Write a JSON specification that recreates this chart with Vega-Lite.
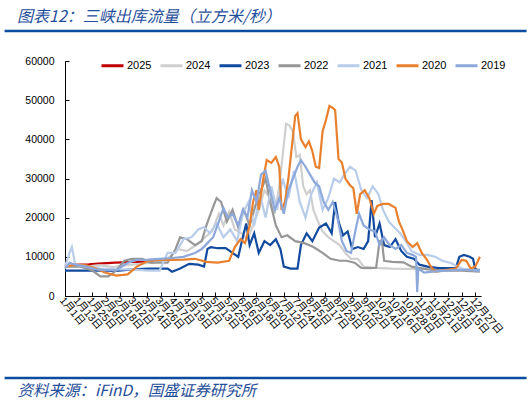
{
  "$schema": "https://vega.github.io/schema/vega-lite/v6.json",
  "width": 416,
  "height": 235,
  "autosize": "none",
  "padding": {"left": 65, "top": 61, "right": 51, "bottom": 108},
  "background": "white",
  "config": {
    "view": {"stroke": null},
    "font": "Liberation Sans, Noto Sans CJK SC",
    "axis": {"labelOverlap": false, "labelFlush": false, "labelBound": false, "grid": false}
  },
  "title": {
    "text": "图表12：三峡出库流量（立方米/秒）",
    "anchor": "start", "frame": "group", "dx": -48, "offset": 5,
    "fontSize": 16, "fontStyle": "italic", "fontWeight": "normal",
    "color": "#1F4E9A", "font": "Noto Sans CJK SC"
  },
  "data": {
    "format": {"parse": {"d": "date:'%m-%d'"}},
    "values": [
      {"s":"2025","d":"01-01","v":7600},{"s":"2025","d":"01-08","v":7900},{"s":"2025","d":"01-15","v":8000},{"s":"2025","d":"01-22","v":8100},{"s":"2025","d":"01-30","v":8300},{"s":"2025","d":"02-07","v":8400},{"s":"2025","d":"02-14","v":8500},{"s":"2025","d":"02-21","v":8600},{"s":"2025","d":"02-28","v":8700},{"s":"2025","d":"03-07","v":8700},{"s":"2025","d":"03-14","v":8600},{"s":"2025","d":"03-20","v":8600},

      {"s":"2024","d":"01-01","v":7800},{"s":"2024","d":"01-10","v":8000},{"s":"2024","d":"01-20","v":7600},{"s":"2024","d":"02-01","v":7800},{"s":"2024","d":"02-12","v":7400},{"s":"2024","d":"02-22","v":7800},{"s":"2024","d":"03-01","v":8000},{"s":"2024","d":"03-10","v":8300},{"s":"2024","d":"03-20","v":8500},{"s":"2024","d":"04-01","v":9500},{"s":"2024","d":"04-10","v":12000},{"s":"2024","d":"04-18","v":11500},{"s":"2024","d":"04-26","v":13000},{"s":"2024","d":"05-04","v":15000},{"s":"2024","d":"05-10","v":16500},{"s":"2024","d":"05-16","v":21000},{"s":"2024","d":"05-20","v":18000},{"s":"2024","d":"05-25","v":21500},{"s":"2024","d":"05-30","v":17000},{"s":"2024","d":"06-05","v":16000},{"s":"2024","d":"06-10","v":14500},{"s":"2024","d":"06-15","v":18000},{"s":"2024","d":"06-20","v":22000},{"s":"2024","d":"06-25","v":27000},{"s":"2024","d":"06-30","v":25000},{"s":"2024","d":"07-04","v":21000},{"s":"2024","d":"07-08","v":28000},{"s":"2024","d":"07-11","v":36000},{"s":"2024","d":"07-14","v":44000},{"s":"2024","d":"07-17","v":43500},{"s":"2024","d":"07-20","v":42000},{"s":"2024","d":"07-23","v":35500},{"s":"2024","d":"07-26","v":36000},{"s":"2024","d":"07-29","v":28000},{"s":"2024","d":"08-01","v":26000},{"s":"2024","d":"08-04","v":27000},{"s":"2024","d":"08-07","v":22000},{"s":"2024","d":"08-11","v":19000},{"s":"2024","d":"08-15","v":16500},{"s":"2024","d":"08-20","v":15000},{"s":"2024","d":"08-25","v":14000},{"s":"2024","d":"08-30","v":13000},{"s":"2024","d":"09-04","v":11000},{"s":"2024","d":"09-09","v":9500},{"s":"2024","d":"09-15","v":9500},{"s":"2024","d":"09-20","v":7500},{"s":"2024","d":"10-01","v":7200},{"s":"2024","d":"10-15","v":7000},{"s":"2024","d":"11-01","v":6900},{"s":"2024","d":"11-15","v":7000},{"s":"2024","d":"12-01","v":6900},{"s":"2024","d":"12-15","v":6700},{"s":"2024","d":"12-31","v":6800},

      {"s":"2023","d":"01-01","v":6500},{"s":"2023","d":"01-15","v":6500},{"s":"2023","d":"02-01","v":6500},{"s":"2023","d":"02-15","v":6400},{"s":"2023","d":"03-01","v":6800},{"s":"2023","d":"03-15","v":7000},{"s":"2023","d":"04-01","v":7000},{"s":"2023","d":"04-05","v":6200},{"s":"2023","d":"04-12","v":7000},{"s":"2023","d":"04-20","v":8200},{"s":"2023","d":"04-28","v":8000},{"s":"2023","d":"05-03","v":7500},{"s":"2023","d":"05-06","v":12000},{"s":"2023","d":"05-09","v":12500},{"s":"2023","d":"05-15","v":12200},{"s":"2023","d":"05-22","v":12200},{"s":"2023","d":"05-28","v":11000},{"s":"2023","d":"06-02","v":10000},{"s":"2023","d":"06-06","v":15000},{"s":"2023","d":"06-09","v":18500},{"s":"2023","d":"06-12","v":13000},{"s":"2023","d":"06-16","v":16000},{"s":"2023","d":"06-20","v":11000},{"s":"2023","d":"06-25","v":14000},{"s":"2023","d":"06-30","v":13000},{"s":"2023","d":"07-05","v":14500},{"s":"2023","d":"07-09","v":12000},{"s":"2023","d":"07-12","v":7500},{"s":"2023","d":"07-18","v":7000},{"s":"2023","d":"07-24","v":7000},{"s":"2023","d":"07-27","v":13000},{"s":"2023","d":"08-01","v":16000},{"s":"2023","d":"08-06","v":14000},{"s":"2023","d":"08-12","v":17500},{"s":"2023","d":"08-18","v":18500},{"s":"2023","d":"08-23","v":16000},{"s":"2023","d":"08-26","v":24000},{"s":"2023","d":"08-29","v":19000},{"s":"2023","d":"09-02","v":15500},{"s":"2023","d":"09-06","v":16500},{"s":"2023","d":"09-10","v":12000},{"s":"2023","d":"09-15","v":12500},{"s":"2023","d":"09-20","v":12000},{"s":"2023","d":"09-24","v":14000},{"s":"2023","d":"09-27","v":24500},{"s":"2023","d":"09-30","v":15000},{"s":"2023","d":"10-04","v":18500},{"s":"2023","d":"10-08","v":13000},{"s":"2023","d":"10-13","v":12500},{"s":"2023","d":"10-18","v":14500},{"s":"2023","d":"10-23","v":11500},{"s":"2023","d":"10-28","v":10000},{"s":"2023","d":"11-03","v":9500},{"s":"2023","d":"11-08","v":8000},{"s":"2023","d":"11-15","v":7500},{"s":"2023","d":"11-25","v":7100},{"s":"2023","d":"12-05","v":7100},{"s":"2023","d":"12-10","v":7200},{"s":"2023","d":"12-13","v":10000},{"s":"2023","d":"12-17","v":10500},{"s":"2023","d":"12-22","v":10000},{"s":"2023","d":"12-25","v":9500},{"s":"2023","d":"12-27","v":6800},{"s":"2023","d":"12-31","v":6500},

      {"s":"2022","d":"01-01","v":7500},{"s":"2022","d":"01-15","v":7500},{"s":"2022","d":"01-25","v":6500},{"s":"2022","d":"02-01","v":5000},{"s":"2022","d":"02-08","v":5000},{"s":"2022","d":"02-15","v":6500},{"s":"2022","d":"02-22","v":9000},{"s":"2022","d":"03-01","v":9500},{"s":"2022","d":"03-10","v":9500},{"s":"2022","d":"03-17","v":8500},{"s":"2022","d":"03-25","v":8500},{"s":"2022","d":"04-01","v":8500},{"s":"2022","d":"04-08","v":12000},{"s":"2022","d":"04-12","v":15000},{"s":"2022","d":"04-18","v":14500},{"s":"2022","d":"04-25","v":13000},{"s":"2022","d":"05-01","v":14000},{"s":"2022","d":"05-05","v":18000},{"s":"2022","d":"05-10","v":22000},{"s":"2022","d":"05-14","v":25000},{"s":"2022","d":"05-18","v":24000},{"s":"2022","d":"05-23","v":19000},{"s":"2022","d":"05-28","v":22000},{"s":"2022","d":"06-02","v":17500},{"s":"2022","d":"06-07","v":22000},{"s":"2022","d":"06-12","v":18000},{"s":"2022","d":"06-17","v":23000},{"s":"2022","d":"06-22","v":27000},{"s":"2022","d":"06-26","v":30000},{"s":"2022","d":"06-30","v":24000},{"s":"2022","d":"07-05","v":18000},{"s":"2022","d":"07-10","v":15000},{"s":"2022","d":"07-15","v":15500},{"s":"2022","d":"07-22","v":14000},{"s":"2022","d":"07-30","v":13500},{"s":"2022","d":"08-07","v":12500},{"s":"2022","d":"08-15","v":11000},{"s":"2022","d":"08-22","v":9500},{"s":"2022","d":"08-30","v":9000},{"s":"2022","d":"09-05","v":9000},{"s":"2022","d":"09-12","v":8500},{"s":"2022","d":"09-18","v":7200},{"s":"2022","d":"09-25","v":7100},{"s":"2022","d":"10-01","v":7200},{"s":"2022","d":"10-04","v":14000},{"s":"2022","d":"10-06","v":14300},{"s":"2022","d":"10-08","v":9000},{"s":"2022","d":"10-15","v":8700},{"s":"2022","d":"10-25","v":8600},{"s":"2022","d":"11-01","v":7500},{"s":"2022","d":"11-15","v":6800},{"s":"2022","d":"12-01","v":6500},{"s":"2022","d":"12-15","v":6500},{"s":"2022","d":"12-31","v":6200},

      {"s":"2021","d":"01-01","v":7500},{"s":"2021","d":"01-05","v":11000},{"s":"2021","d":"01-07","v":12500},{"s":"2021","d":"01-10","v":8000},{"s":"2021","d":"01-20","v":7500},{"s":"2021","d":"02-01","v":7000},{"s":"2021","d":"02-15","v":6800},{"s":"2021","d":"03-01","v":6800},{"s":"2021","d":"03-15","v":6500},{"s":"2021","d":"03-25","v":6500},{"s":"2021","d":"04-01","v":11000},{"s":"2021","d":"04-08","v":11000},{"s":"2021","d":"04-15","v":14500},{"s":"2021","d":"04-22","v":15000},{"s":"2021","d":"04-28","v":17000},{"s":"2021","d":"05-03","v":17600},{"s":"2021","d":"05-08","v":16000},{"s":"2021","d":"05-14","v":18600},{"s":"2021","d":"05-20","v":15000},{"s":"2021","d":"05-26","v":17000},{"s":"2021","d":"06-01","v":14000},{"s":"2021","d":"06-06","v":21000},{"s":"2021","d":"06-11","v":24000},{"s":"2021","d":"06-16","v":18000},{"s":"2021","d":"06-21","v":26000},{"s":"2021","d":"06-26","v":20000},{"s":"2021","d":"07-01","v":28000},{"s":"2021","d":"07-06","v":22000},{"s":"2021","d":"07-11","v":30000},{"s":"2021","d":"07-16","v":25000},{"s":"2021","d":"07-21","v":32000},{"s":"2021","d":"07-26","v":24000},{"s":"2021","d":"07-31","v":20000},{"s":"2021","d":"08-05","v":26000},{"s":"2021","d":"08-10","v":29000},{"s":"2021","d":"08-15","v":22000},{"s":"2021","d":"08-20","v":25000},{"s":"2021","d":"08-25","v":30000},{"s":"2021","d":"08-30","v":29000},{"s":"2021","d":"09-03","v":31000},{"s":"2021","d":"09-08","v":33000},{"s":"2021","d":"09-13","v":32000},{"s":"2021","d":"09-18","v":27000},{"s":"2021","d":"09-23","v":25000},{"s":"2021","d":"09-28","v":28000},{"s":"2021","d":"10-03","v":26000},{"s":"2021","d":"10-07","v":22000},{"s":"2021","d":"10-12","v":19000},{"s":"2021","d":"10-17","v":17500},{"s":"2021","d":"10-22","v":16000},{"s":"2021","d":"10-27","v":14000},{"s":"2021","d":"11-01","v":11500},{"s":"2021","d":"11-08","v":10500},{"s":"2021","d":"11-15","v":10500},{"s":"2021","d":"11-22","v":10000},{"s":"2021","d":"11-28","v":9000},{"s":"2021","d":"12-05","v":8500},{"s":"2021","d":"12-15","v":7000},{"s":"2021","d":"12-31","v":6500},

      {"s":"2020","d":"01-01","v":7400},{"s":"2020","d":"01-10","v":8000},{"s":"2020","d":"01-20","v":7800},{"s":"2020","d":"01-28","v":7000},{"s":"2020","d":"02-05","v":6000},{"s":"2020","d":"02-15","v":5200},{"s":"2020","d":"02-25","v":5500},{"s":"2020","d":"03-05","v":7500},{"s":"2020","d":"03-15","v":9000},{"s":"2020","d":"03-25","v":9200},{"s":"2020","d":"04-05","v":9200},{"s":"2020","d":"04-15","v":9300},{"s":"2020","d":"04-25","v":9500},{"s":"2020","d":"05-05","v":8700},{"s":"2020","d":"05-15","v":8500},{"s":"2020","d":"05-25","v":9000},{"s":"2020","d":"05-30","v":12500},{"s":"2020","d":"06-04","v":14500},{"s":"2020","d":"06-08","v":13500},{"s":"2020","d":"06-12","v":18000},{"s":"2020","d":"06-15","v":24000},{"s":"2020","d":"06-18","v":27000},{"s":"2020","d":"06-20","v":22000},{"s":"2020","d":"06-24","v":30000},{"s":"2020","d":"06-27","v":34700},{"s":"2020","d":"07-01","v":34000},{"s":"2020","d":"07-05","v":35500},{"s":"2020","d":"07-08","v":33000},{"s":"2020","d":"07-10","v":22000},{"s":"2020","d":"07-13","v":24000},{"s":"2020","d":"07-16","v":30000},{"s":"2020","d":"07-19","v":38000},{"s":"2020","d":"07-22","v":46000},{"s":"2020","d":"07-24","v":46700},{"s":"2020","d":"07-27","v":40000},{"s":"2020","d":"07-31","v":38000},{"s":"2020","d":"08-03","v":39500},{"s":"2020","d":"08-06","v":37000},{"s":"2020","d":"08-09","v":33000},{"s":"2020","d":"08-12","v":32700},{"s":"2020","d":"08-15","v":42000},{"s":"2020","d":"08-18","v":45000},{"s":"2020","d":"08-21","v":48500},{"s":"2020","d":"08-24","v":48000},{"s":"2020","d":"08-26","v":47500},{"s":"2020","d":"08-29","v":35000},{"s":"2020","d":"09-01","v":34000},{"s":"2020","d":"09-04","v":30000},{"s":"2020","d":"09-08","v":28300},{"s":"2020","d":"09-11","v":27500},{"s":"2020","d":"09-14","v":21000},{"s":"2020","d":"09-17","v":26000},{"s":"2020","d":"09-21","v":27000},{"s":"2020","d":"09-25","v":25000},{"s":"2020","d":"09-29","v":21000},{"s":"2020","d":"10-02","v":23000},{"s":"2020","d":"10-07","v":23500},{"s":"2020","d":"10-12","v":23500},{"s":"2020","d":"10-18","v":22500},{"s":"2020","d":"10-21","v":19000},{"s":"2020","d":"10-24","v":17000},{"s":"2020","d":"10-28","v":14000},{"s":"2020","d":"11-02","v":12500},{"s":"2020","d":"11-06","v":13500},{"s":"2020","d":"11-10","v":11000},{"s":"2020","d":"11-14","v":9500},{"s":"2020","d":"11-18","v":7500},{"s":"2020","d":"11-22","v":6200},{"s":"2020","d":"11-28","v":6500},{"s":"2020","d":"12-05","v":6800},{"s":"2020","d":"12-10","v":7000},{"s":"2020","d":"12-15","v":9200},{"s":"2020","d":"12-19","v":9000},{"s":"2020","d":"12-23","v":7000},{"s":"2020","d":"12-27","v":7500},{"s":"2020","d":"12-31","v":10000},

      {"s":"2019","d":"01-01","v":7000},{"s":"2019","d":"01-05","v":8500},{"s":"2019","d":"01-10","v":8000},{"s":"2019","d":"01-20","v":7500},{"s":"2019","d":"01-28","v":6800},{"s":"2019","d":"02-05","v":6600},{"s":"2019","d":"02-15","v":6600},{"s":"2019","d":"02-25","v":8500},{"s":"2019","d":"03-05","v":9200},{"s":"2019","d":"03-15","v":9300},{"s":"2019","d":"03-25","v":9500},{"s":"2019","d":"04-05","v":9700},{"s":"2019","d":"04-15","v":10000},{"s":"2019","d":"04-25","v":11000},{"s":"2019","d":"05-01","v":12000},{"s":"2019","d":"05-06","v":13500},{"s":"2019","d":"05-11","v":15000},{"s":"2019","d":"05-16","v":19000},{"s":"2019","d":"05-20","v":22500},{"s":"2019","d":"05-24","v":20000},{"s":"2019","d":"05-28","v":21000},{"s":"2019","d":"06-02","v":18000},{"s":"2019","d":"06-06","v":22000},{"s":"2019","d":"06-10","v":20000},{"s":"2019","d":"06-14","v":27000},{"s":"2019","d":"06-18","v":24000},{"s":"2019","d":"06-22","v":31000},{"s":"2019","d":"06-26","v":32000},{"s":"2019","d":"06-30","v":27000},{"s":"2019","d":"07-04","v":22000},{"s":"2019","d":"07-08","v":25000},{"s":"2019","d":"07-12","v":21000},{"s":"2019","d":"07-16","v":27000},{"s":"2019","d":"07-20","v":30000},{"s":"2019","d":"07-24","v":33000},{"s":"2019","d":"07-27","v":34700},{"s":"2019","d":"07-31","v":33000},{"s":"2019","d":"08-04","v":31000},{"s":"2019","d":"08-08","v":29000},{"s":"2019","d":"08-12","v":28000},{"s":"2019","d":"08-16","v":24000},{"s":"2019","d":"08-20","v":22000},{"s":"2019","d":"08-24","v":24000},{"s":"2019","d":"08-28","v":20000},{"s":"2019","d":"09-01","v":14000},{"s":"2019","d":"09-05","v":11500},{"s":"2019","d":"09-09","v":11000},{"s":"2019","d":"09-13","v":17000},{"s":"2019","d":"09-16","v":21000},{"s":"2019","d":"09-20","v":18000},{"s":"2019","d":"09-25","v":17000},{"s":"2019","d":"09-30","v":16500},{"s":"2019","d":"10-04","v":13000},{"s":"2019","d":"10-08","v":15000},{"s":"2019","d":"10-13","v":13000},{"s":"2019","d":"10-18","v":12000},{"s":"2019","d":"10-23","v":13000},{"s":"2019","d":"10-28","v":11000},{"s":"2019","d":"11-02","v":10500},{"s":"2019","d":"11-05","v":10000},{"s":"2019","d":"11-06","v":1000},{"s":"2019","d":"11-07","v":7000},{"s":"2019","d":"11-12","v":6000},{"s":"2019","d":"11-20","v":6200},{"s":"2019","d":"12-01","v":6500},{"s":"2019","d":"12-15","v":6700},{"s":"2019","d":"12-31","v":6500}
    ]
  },
  "layer": [
    {
      "mark": {"type": "line", "strokeWidth": 2.2, "clip": false},
      "encoding": {
        "x": {
          "field": "d", "type": "temporal",
          "scale": {"domain": [{"year": 1900, "month": 1, "date": 1}, {"year": 1901, "month": 1, "date": 1}]},
          "axis": {
            "values": [
              {"year":1900,"month":1,"date":1},{"year":1900,"month":1,"date":13},{"year":1900,"month":1,"date":25},{"year":1900,"month":2,"date":6},{"year":1900,"month":2,"date":18},{"year":1900,"month":3,"date":2},{"year":1900,"month":3,"date":14},{"year":1900,"month":3,"date":26},{"year":1900,"month":4,"date":7},{"year":1900,"month":4,"date":19},{"year":1900,"month":5,"date":1},{"year":1900,"month":5,"date":13},{"year":1900,"month":5,"date":25},{"year":1900,"month":6,"date":6},{"year":1900,"month":6,"date":18},{"year":1900,"month":6,"date":30},{"year":1900,"month":7,"date":12},{"year":1900,"month":7,"date":24},{"year":1900,"month":8,"date":5},{"year":1900,"month":8,"date":17},{"year":1900,"month":8,"date":29},{"year":1900,"month":9,"date":10},{"year":1900,"month":9,"date":22},{"year":1900,"month":10,"date":4},{"year":1900,"month":10,"date":16},{"year":1900,"month":10,"date":28},{"year":1900,"month":11,"date":9},{"year":1900,"month":11,"date":21},{"year":1900,"month":12,"date":3},{"year":1900,"month":12,"date":15},{"year":1900,"month":12,"date":27}
            ],
            "tickCount": 60,
            "format": "%-m月%-d日",
            "labelAngle": 50, "labelAlign": "left", "labelBaseline": "top",
            "labelFontSize": 10.5, "labelColor": "#000", "labelPadding": 3,
            "labelOverlap": false,
            "tickSize": -4, "tickColor": "#000", "domainColor": "#000",
            "title": "资料来源：iFinD，国盛证券研究所",
            "titleX": -48, "titleY": 94, "titleAlign": "left", "titleAngle": 0,
            "titleBaseline": "middle", "titleFontSize": 15.5, "titleFontStyle": "italic",
            "titleFontWeight": "normal", "titleColor": "#1F4E9A", "titleFont": "Noto Sans CJK SC"
          }
        },
        "y": {
          "field": "v", "type": "quantitative",
          "scale": {"domain": [0, 60000], "nice": false},
          "axis": {
            "values": [0, 10000, 20000, 30000, 40000, 50000, 60000],
            "tickCount": 20,
            "format": "d", "title": null, "labelOverlap": false,
            "tickSize": -4, "tickColor": "#000", "domainColor": "#000",
            "labelFontSize": 10.5, "labelColor": "#000", "labelPadding": 15
          }
        },
        "color": {
          "field": "s", "type": "nominal",
          "scale": {
            "domain": ["2025", "2024", "2023", "2022", "2021", "2020", "2019"],
            "range": ["#C00000", "#CFCFCF", "#114A9F", "#979797", "#B9CDEA", "#E8802E", "#8DA9DB"]
          },
          "legend": {
            "title": null, "orient": "none", "legendX": 35, "legendY": -8,
            "direction": "horizontal", "symbolType": "stroke", "symbolStrokeWidth": 3,
            "symbolSize": 484, "labelFontSize": 11, "labelOffset": 2, "columnPadding": 2,
            "labelColor": "#000", "padding": 0
          }
        }
      }
    },
    {
      "data": {"values": [{}]},
      "mark": {"type": "rule", "color": "#0B4C9F", "strokeWidth": 2.5, "clip": false},
      "encoding": {
        "x": {"datum": {"year": 1899, "month": 11, "date": 9}, "type": "temporal"},
        "x2": {"datum": {"year": 1901, "month": 2, "date": 10}},
        "y": {"datum": 67660, "type": "quantitative"}
      }
    },
    {
      "data": {"values": [{}]},
      "mark": {"type": "rule", "color": "#0B4C9F", "strokeWidth": 2.5, "clip": false},
      "encoding": {
        "x": {"datum": {"year": 1899, "month": 11, "date": 9}, "type": "temporal"},
        "x2": {"datum": {"year": 1901, "month": 2, "date": 10}},
        "y": {"datum": -20935, "type": "quantitative"}
      }
    }
  ]
}
